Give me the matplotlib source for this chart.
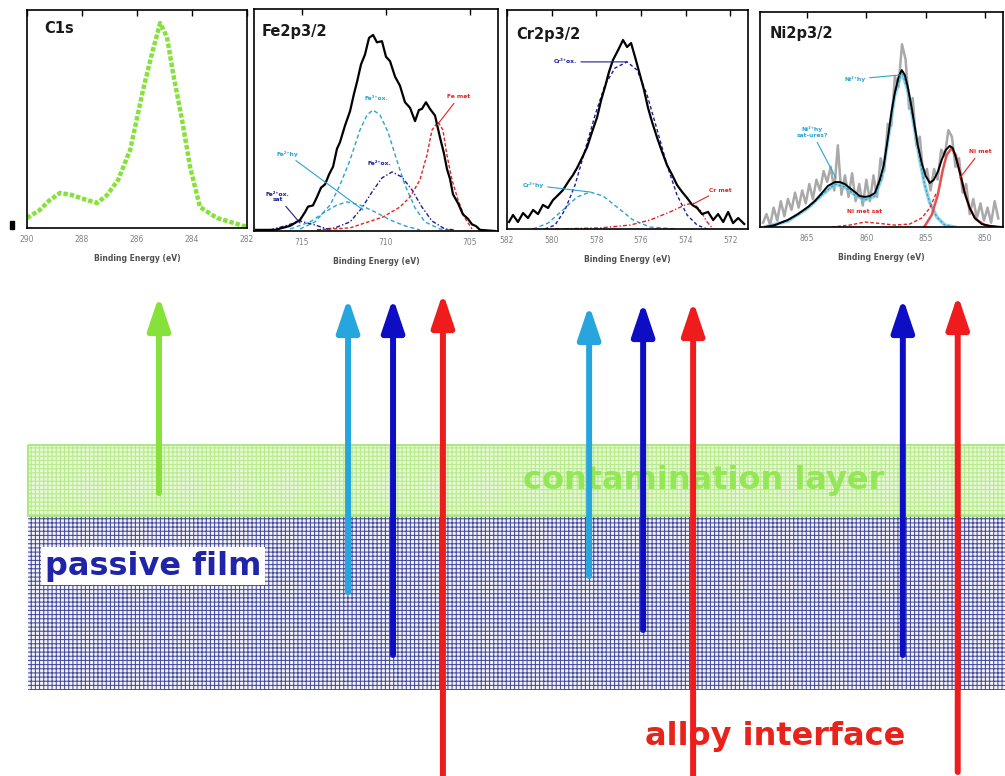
import matplotlib
matplotlib.use("Agg")
import matplotlib.pyplot as plt
from matplotlib.patches import Rectangle

plt.rcParams['font.family'] = ['DejaVu Sans']
plt.rcParams['hatch.linewidth'] = 0.75

W, H = 1005, 776

# ---------------- data (binding energy in eV, intensity in a.u.) ----------------
c1s_E = [290.0, 289.53, 289.2, 288.8, 288.36, 287.82, 287.45, 287.09, 286.69, 286.25,
         286.07, 285.78, 285.45, 285.16, 284.91, 284.69, 284.36, 284.07, 283.71, 283.09, 282.0]
c1s_I = [4.6, 8.3, 12.5, 16.1, 15.1, 12.8, 11.5, 15.1, 22.0, 35.8,
         46.3, 63.3, 80.3, 94.0, 87.6, 71.1, 49.5, 28.0, 9.6, 4.6, 0.5]

fe_E = [717.74, 716.61, 715.71, 715.12, 714.82, 714.64, 714.35, 714.11, 713.87, 713.63,
        713.39, 713.15, 712.92, 712.74, 712.44, 712.14, 711.90, 711.73, 711.49, 711.25,
        711.01, 710.77, 710.54, 710.24, 710.00, 709.76, 709.46, 709.17, 708.87, 708.57,
        708.27, 708.04, 707.86, 707.62, 707.38, 707.08, 706.79, 706.55, 706.37, 706.19,
        706.01, 705.71, 705.42, 705.12, 704.88, 704.64, 704.40, 703.51]
fe_I = [0.5, 0.5, 2.3, 5.0, 8.5, 11.0, 11.5, 15.3, 19.5, 21.0,
        25.5, 29.0, 37.0, 40.0, 47.5, 54.0, 62.0, 67.0, 75.0, 79.5,
        87.0, 88.3, 85.0, 85.5, 78.5, 76.5, 69.5, 65.5, 58.0, 55.5,
        49.5, 54.5, 55.0, 58.0, 55.0, 52.0, 42.3, 35.0, 28.0, 23.5,
        16.5, 12.5, 7.5, 5.5, 3.0, 2.2, 0.5, 0.0]
fe3_ox_E = [715.12, 714.23, 713.33, 712.74, 712.14, 711.55, 711.13, 710.77, 710.36, 709.88,
            709.40, 708.87, 708.27, 707.68, 706.79, 706.19]
fe3_ox_I = [0.9, 4.1, 11.7, 20.7, 32.0, 45.5, 52.3, 54.5, 52.3, 44.6,
            32.9, 20.7, 10.4, 4.1, 0.9, 0.5]
fe_hy_E = [715.71, 714.52, 713.63, 712.92, 712.32, 711.55, 710.65, 709.76, 708.87, 707.98]
fe_hy_I = [0.9, 4.1, 8.6, 11.7, 13.1, 11.7, 8.6, 5.0, 2.3, 0.5]
fe2_ox_E = [714.11, 713.04, 712.14, 711.43, 710.83, 710.24, 709.64, 709.05, 708.45, 707.86,
            707.26, 706.49, 705.89]
fe2_ox_I = [0.5, 1.4, 4.1, 10.4, 17.6, 23.9, 26.6, 24.3, 18.5, 10.8, 4.5, 0.9, 0.5]
fe2_sat_E = [716.9, 716.01, 715.12, 714.23, 713.33]
fe2_sat_I = [0.5, 2.3, 4.5, 2.7, 0.5]
fe_met_E = [714.11, 712.14, 710.18, 709.17, 708.57, 707.98, 707.56, 707.26, 706.90, 706.61,
            706.37, 706.07, 705.71, 705.30, 704.88]
fe_met_I = [0.5, 1.4, 6.3, 10.8, 15.3, 23.0, 34.2, 45.5, 49.1, 45.5,
            34.2, 23.0, 14.0, 5.9, 0.9]

cr_E = [581.91, 581.73, 581.51, 581.28, 581.06, 580.83, 580.61, 580.39, 580.16, 579.94,
        579.71, 579.49, 579.26, 579.04, 578.86, 578.64, 578.41, 578.19, 577.96, 577.78,
        577.61, 577.43, 577.25, 577.02, 576.80, 576.62, 576.44, 576.26, 576.04, 575.86,
        575.68, 575.50, 575.27, 575.05, 574.83, 574.60, 574.38, 574.15, 573.93, 573.70,
        573.48, 573.26, 572.99, 572.76, 572.54, 572.31, 572.09, 571.87, 571.64, 571.37]
cr_I = [3.2, 6.4, 3.2, 7.3, 5.0, 8.7, 6.8, 11.0, 9.6, 13.2,
        15.5, 17.8, 21.5, 24.7, 27.9, 32.4, 37.4, 44.3, 51.1, 58.9,
        64.8, 71.7, 77.2, 81.7, 86.3, 83.1, 84.9, 78.5, 70.3, 63.5,
        55.3, 48.9, 41.6, 35.2, 29.2, 24.7, 20.1, 16.9, 14.2, 11.0,
        9.6, 6.8, 7.8, 4.1, 6.8, 3.2, 7.8, 2.7, 5.0, 2.3]
cr_ox_E = [580.30, 579.85, 579.40, 578.95, 578.50, 578.05, 577.61, 577.16, 576.62, 576.17,
           575.72, 575.27, 574.83, 574.38, 573.93, 573.48, 573.03]
cr_ox_I = [0.0, 1.8, 8.7, 20.1, 36.1, 52.1, 65.8, 73.5, 76.3, 72.6,
           61.2, 45.2, 29.2, 15.5, 6.4, 1.8, 0.0]
cr_hy_E = [580.83, 580.16, 579.49, 578.86, 578.28, 577.70, 577.02, 576.35, 575.59, 574.38]
cr_hy_I = [0.0, 2.7, 8.7, 14.6, 16.9, 15.1, 9.6, 4.1, 0.9, 0.0]
cr_met_E = [579.85, 577.83, 576.48, 575.59, 574.69, 574.02, 573.66, 573.35, 573.03, 572.76]
cr_met_I = [0.0, 0.5, 1.8, 4.1, 7.8, 11.0, 11.9, 8.7, 3.2, 0.0]

ni_raw_E = [868.7, 868.4, 868.1, 867.8, 867.5, 867.2, 866.9, 866.6, 866.3, 866.0,
            865.7, 865.4, 865.1, 864.8, 864.5, 864.2, 863.9, 863.6, 863.3, 863.0,
            862.7, 862.4, 862.1, 861.8, 861.5, 861.2, 860.9, 860.6, 860.3, 860.0,
            859.7, 859.4, 859.1, 858.8, 858.5, 858.2, 857.9, 857.6, 857.3, 857.0,
            856.7, 856.4, 856.1, 855.8, 855.5, 855.2, 854.9, 854.6, 854.3, 854.0,
            853.7, 853.4, 853.1, 852.8, 852.5, 852.2, 851.9, 851.6, 851.3, 851.0,
            850.7, 850.4, 850.1, 849.8, 849.5, 849.2, 848.9]
ni_raw_I = [2, 6, 1, 9, 3, 12, 5, 13, 8, 16,
            9, 17, 11, 20, 13, 22, 17, 26, 21, 28,
            17, 38, 15, 24, 14, 25, 12, 20, 10, 22,
            12, 24, 14, 32, 26, 48, 47, 70, 65, 85,
            78, 55, 60, 38, 42, 23, 27, 17, 27, 22,
            36, 33, 45, 42, 28, 32, 16, 20, 6, 13,
            4, 11, 3, 9, 2, 12, 4]
ni_fit_E = [868.53, 867.69, 866.60, 865.76, 864.92, 864.33, 863.74, 863.24, 862.65, 862.23,
            861.81, 861.39, 860.97, 860.55, 860.13, 859.71, 859.29, 858.87, 858.53, 858.19,
            857.86, 857.61, 857.27, 857.02, 856.76, 856.51, 856.18, 855.92, 855.67, 855.34,
            855.00, 854.66, 854.33, 853.99, 853.66, 853.32, 852.98, 852.73, 852.48, 852.14,
            851.72, 851.30, 850.88, 850.29, 849.62, 848.61]
ni_fit_I = [0.0, 0.9, 3.3, 6.0, 9.3, 12.1, 15.8, 19.1, 20.9, 20.9,
            20.0, 18.1, 16.3, 14.4, 14.0, 14.4, 15.8, 21.9, 28.8, 41.4,
            54.4, 62.3, 70.2, 73.0, 70.7, 65.1, 55.3, 46.5, 38.1, 29.8,
            23.7, 20.5, 21.9, 25.6, 31.2, 35.8, 37.7, 36.7, 32.6, 25.6,
            15.8, 8.8, 4.2, 1.4, 0.5, 0.0]
ni_hy_E = [868.53, 866.60, 864.92, 863.74, 862.65, 861.81, 860.97, 860.13, 859.29, 858.70,
           858.19, 857.61, 857.02, 856.51, 855.92, 855.50, 855.08, 854.66, 854.08, 853.40, 852.56]
ni_hy_I = [0.0, 2.8, 8.8, 14.9, 20.0, 18.6, 14.9, 12.6, 14.4, 22.8,
           40.5, 61.4, 72.1, 63.7, 45.1, 31.2, 19.5, 11.2, 4.7, 0.9, 0.0]
ni_met_E = [855.08, 854.50, 853.99, 853.57, 853.24, 852.82, 852.48, 852.14, 851.72, 851.30,
            850.80, 850.04, 849.20]
ni_met_I = [0.5, 5.6, 14.9, 26.5, 33.5, 36.7, 33.5, 25.6, 15.8, 8.8, 3.7, 0.9, 0.0]
ni_sat_E = [862.90, 861.39, 860.13, 859.29, 857.61, 856.34, 855.34, 854.66, 854.08]
ni_sat_I = [0.0, 0.9, 2.3, 1.9, 0.9, 1.4, 4.2, 8.8, 16.3]

# peak energies sampled in depth (arrows)
c1s_arrow_E = [285.2]
fe_arrow_E = [712.26, 709.58, 706.61]
cr_arrow_E = [578.32, 575.90, 573.66]
ni_arrow_E = [856.93, 852.31]

layer_names = ['contamination layer', 'passive film', 'alloy interface']

# ---------------- styles ----------------
GREEN = '#86e23a'
CYAN = '#2aa3d2'
NAVY = '#1c1c96'
RED = '#e02424'
A_LBLUE = '#27a6dd'
A_BLUE = '#0d0dc4'
A_RED = '#ee1c1c'

fig = plt.figure(figsize=(W / 100, H / 100), dpi=100)
fig.patch.set_facecolor('white')

ax_bg = fig.add_axes([0, 0, 1, 1], zorder=0)
ax_bg.set_xlim(0, W)
ax_bg.set_ylim(H, 0)
ax_bg.axis('off')


def panel(box, xlim, xticks, title, title_xy):
    l, t, r, b = box
    ax = fig.add_axes([l / W, 1 - b / H, (r - l) / W, (b - t) / H], zorder=2)
    ax.set_xlim(*xlim)
    ax.set_ylim(0, 100)
    ax.set_yticks([])
    ax.set_xticks(xticks)
    ax.set_xticklabels([str(v) for v in xticks])
    ax.tick_params(axis='x', top=True, bottom=False, direction='in', length=4,
                   width=1, labelsize=5.5, labelcolor='#808080', pad=5)
    for s in ax.spines.values():
        s.set_linewidth(1.2)
    ax.set_xlabel('Binding Energy (eV)', fontsize=5.5, fontweight='bold',
                  color='#505050', labelpad=7)
    ax.text(title_xy[0], title_xy[1], title, transform=ax.transAxes, fontsize=10.5,
            fontweight='bold', va='center', ha='left', color='#1a1a1a')
    return ax


def label(ax, txt, xy_frac, target, color, ha='center'):
    if target is None:
        ax.text(xy_frac[0], xy_frac[1], txt, transform=ax.transAxes, fontsize=4.3,
                fontweight='bold', color=color, ha=ha, va='center')
    else:
        ax.annotate(txt, xy=target, xycoords='data', xytext=xy_frac,
                    textcoords='axes fraction', fontsize=4.3, fontweight='bold',
                    color=color, ha=ha, va='center',
                    arrowprops=dict(arrowstyle='-', color=color, lw=0.8,
                                    shrinkA=1, shrinkB=0))


# C1s
ax1 = panel((27, 10, 247, 228), (290, 282), [290, 288, 286, 284, 282], 'C1s', (0.08, 0.917))
ax1.plot(c1s_E, c1s_I, color=GREEN, lw=3.2, linestyle=(0, (1.0, 0.45)),
         solid_capstyle='butt', dash_capstyle='butt')

# Fe
ax2 = panel((254, 9, 498, 231), (717.86, 703.33), [715, 710, 705], 'Fe2p3/2', (0.033, 0.90))
ax2.plot(fe3_ox_E, fe3_ox_I, color=CYAN, lw=1.0, ls=(0, (3, 2)))
ax2.plot(fe_hy_E, fe_hy_I, color=CYAN, lw=1.0, ls=(0, (3, 2)))
ax2.plot(fe2_ox_E, fe2_ox_I, color=NAVY, lw=1.0, ls=(0, (3, 1.5, 1, 1.5)))
ax2.plot(fe2_sat_E, fe2_sat_I, color=NAVY, lw=1.0, ls=(0, (3, 1.5, 1, 1.5)))
ax2.plot(fe_met_E, fe_met_I, color=RED, lw=1.0, ls=(0, (2.5, 1.5)))
ax2.plot(fe_E, fe_I, color='black', lw=1.6)
label(ax2, 'Fe³⁺ox.', (0.50, 0.595), None, CYAN)
label(ax2, 'Fe met', (0.84, 0.604), (706.96, 47.7), RED)
label(ax2, 'Fe²⁺hy', (0.135, 0.347), (711.37, 9.5), CYAN)
label(ax2, 'Fe²⁺ox.', (0.516, 0.306), None, NAVY)
label(ax2, 'Fe²⁺ox.\nsat', (0.098, 0.153), (715.12, 3.6), NAVY)

# Cr
ax3 = panel((507, 10, 748, 229), (582, 571.2), [582, 580, 578, 576, 574, 572], 'Cr2p3/2', (0.037, 0.886))
ax3.plot(cr_hy_E, cr_hy_I, color=CYAN, lw=1.0, ls=(0, (3, 2)))
ax3.plot(cr_ox_E, cr_ox_I, color=NAVY, lw=1.0, ls=(0, (2.5, 1.8)))
ax3.plot(cr_met_E, cr_met_I, color=RED, lw=1.0, ls=(0, (3, 1.5, 1, 1.5)))
ax3.plot(cr_E, cr_I, color='black', lw=1.6)
label(ax3, 'Cr³⁺ox.', (0.241, 0.763), (576.62, 76.3), NAVY)
label(ax3, 'Cr³⁺hy', (0.108, 0.20), (578.28, 16.9), CYAN)
label(ax3, 'Cr met', (0.884, 0.178), (573.66, 11.4), RED)

# Ni
ax4 = panel((760, 12, 1003, 227), (868.95, 848.5), [865, 860, 855, 850], 'Ni2p3/2', (0.041, 0.90))
ax4.plot(ni_raw_E, ni_raw_I, color='#a9a9a9', lw=1.8)
ax4.plot(ni_hy_E, ni_hy_I, color='#7cc8e0', lw=2.6, alpha=0.8)
ax4.plot(ni_hy_E, ni_hy_I, color=CYAN, lw=0.9, ls=(0, (2, 1.5)))
ax4.plot(ni_sat_E, ni_sat_I, color=RED, lw=1.0, ls=(0, (2.5, 1.5)))
ax4.plot(ni_met_E, ni_met_I, color='#e85050', lw=1.8)
ax4.plot(ni_fit_E, ni_fit_I, color='black', lw=1.4)
label(ax4, 'Ni²⁺hy', (0.391, 0.688), (857.19, 70.7), CYAN)
label(ax4, 'Ni²⁺hy\nsat-ures?', (0.214, 0.44), (862.56, 22.8), CYAN)
label(ax4, 'Ni met', (0.905, 0.349), (852.14, 22.8), RED)
label(ax4, 'Ni met sat', (0.432, 0.07), None, RED)

# ---------------- layered schematic ----------------
band_left = 28
# contamination layer
ax_bg.add_patch(Rectangle((band_left, 445), W - band_left, 71, facecolor='#e6f9d4',
                          edgecolor='#b6ea8a', hatch='++++', lw=0, zorder=1))
ax_bg.add_patch(Rectangle((band_left, 445), W - band_left + 5, 71, fill=False,
                          edgecolor='#a8e67c', lw=1.3, zorder=1.1))
# passive film
ax_bg.add_patch(Rectangle((band_left, 516), W - band_left, 174, facecolor='#f2f2f8',
                          edgecolor='#444a9e', hatch='++++', lw=0, zorder=1))

# small cropped tick mark
ax_bg.add_patch(Rectangle((10, 221), 4, 8, color='black', zorder=2))

ax_bg.text(704, 480, layer_names[0], fontsize=23, fontweight='bold', color='#8ee64c',
           alpha=0.9, ha='center', va='center', zorder=3)
ax_bg.text(45, 566, layer_names[1], fontsize=23, fontweight='bold', color='#1f24a8',
           ha='left', va='center', zorder=3,
           bbox=dict(boxstyle='square,pad=0.12', facecolor='white', edgecolor='none'))
ax_bg.text(775, 737, layer_names[2], fontsize=23, fontweight='bold', color='#e8231c',
           ha='center', va='center', zorder=3)


def arrow(ax, energy, tip, base, color):
    disp = ax.transData.transform((energy, 0))
    x = ax_bg.transData.inverted().transform(disp)[0]
    ax_bg.annotate('', xy=(x, tip), xytext=(x, base), xycoords='data',
                   annotation_clip=False,
                   arrowprops=dict(arrowstyle='-|>,head_length=0.8,head_width=0.27',
                                   lw=4.3, color=color, shrinkA=0, shrinkB=0,
                                   mutation_scale=25), zorder=5)


arrow(ax1, c1s_arrow_E[0], 296, 493, GREEN)
fe_arrow_style = [(298, 592, A_LBLUE), (298, 655, A_BLUE), (293, 790, A_RED)]
for e, (tp, bs, c) in zip(fe_arrow_E, fe_arrow_style):
    arrow(ax2, e, tp, bs, c)
cr_arrow_style = [(305, 576, A_LBLUE), (302, 630, A_BLUE), (301, 790, A_RED)]
for e, (tp, bs, c) in zip(cr_arrow_E, cr_arrow_style):
    arrow(ax3, e, tp, bs, c)
ni_arrow_style = [(298, 655, A_BLUE), (295, 772, A_RED)]
for e, (tp, bs, c) in zip(ni_arrow_E, ni_arrow_style):
    arrow(ax4, e, tp, bs, c)

fig.savefig('out.png', dpi=100, facecolor='white')
